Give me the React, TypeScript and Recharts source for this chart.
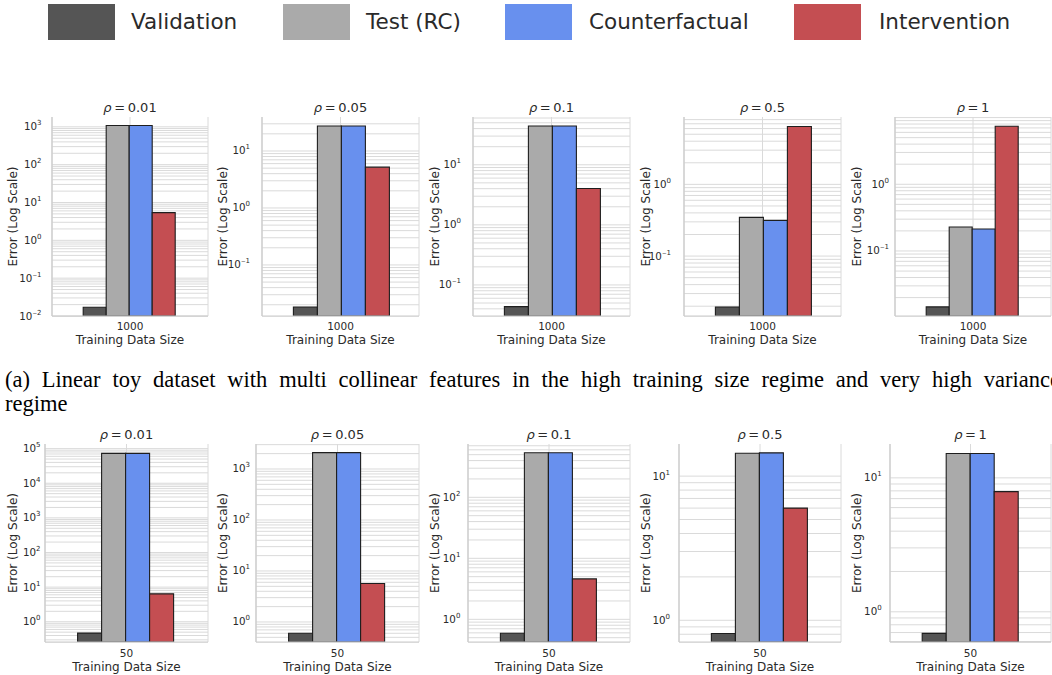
import React from "react";
import { BarChart, Bar, XAxis, YAxis, CartesianGrid } from "recharts";

// series
const seriesNames = ["Validation", "Test (RC)", "Counterfactual", "Intervention"];
const seriesKeys = ["val", "test", "cf", "int"];
const seriesColors = ["#555555", "#aaaaaa", "#6890ee", "#c44e52"];

const rhoLabels = ["0.01", "0.05", "0.1", "0.5", "1"];

// (a) high training size regime
const row1Size = "1000";
const row1Validation = [0.017, 0.0183, 0.0436, 0.0195, 0.0145];
const row1Test = [1080, 27.5, 44.2, 0.347, 0.229];
const row1Counterfactual = [1080, 27.5, 44.2, 0.315, 0.214];
const row1Intervention = [5.4, 5.2, 4.03, 6.4, 7.4];
const row1Domains = [[0.01, 1820], [0.0127, 39.5], [0.0304, 62.4], [0.0146, 8.7], [0.0106, 10.2]];
const row1TickExps = [[-2, -1, 0, 1, 2, 3], [-1, 0, 1], [-1, 0, 1], [-1, 0], [-1, 0]];

// low training size regime
const row2Size = "50";
const row2Validation = [0.47, 0.6, 0.59, 0.81, 0.69];
const row2Test = [73000, 2090, 538, 14.4, 15.2];
const row2Counterfactual = [73000, 2090, 538, 14.5, 15.2];
const row2Intervention = [6.4, 5.7, 4.6, 6.0, 7.9];
const row2Domains = [[0.26, 136000], [0.405, 3090], [0.425, 748], [0.707, 16.7], [0.595, 17.9]];
const row2TickExps = [[0, 1, 2, 3, 4, 5], [0, 1, 2, 3], [0, 1, 2], [0, 1], [0, 1]];

const caption =
  "(a) Linear toy dataset with multi collinear features in the high training size regime and very high variance";
const captionEnd = "regime";

// layout
const FONT = "'DejaVu Sans', sans-serif";
const TEXT = "#2a2a2a";
const SPINE = "#cccccc";
const GRID = "#dadada";

const colRight = [208, 419, 630, 841, 1051];
const yLabelX = [12.5, 223, 434.5, 646, 856.5];
const row1Layout = { top: 117, bottom: 316, lefts: [52, 262, 473, 684, 895], gaps: [10.5, 12, 12, 13, 6], xTick: 6.5, xH: 27.5 };
const row2Layout = { top: 444, bottom: 642, lefts: [45, 256, 468, 679, 890], gaps: [4.5, 6, 7.6, 9, 8.3], xTick: 7.8, xH: 29 };

const legendSwatchX = [48, 283, 505, 794];
const legendTextX = [131, 366, 589, 879];

const LogTick = (props: any) => {
  const { x, y, payload } = props;
  const e = Math.round(Math.log10(payload.value));
  return (
    <text x={x} y={y} dy={3.5} textAnchor="end" fill={TEXT} fontSize={10.3} fontFamily={FONT}>
      <tspan>10</tspan>
      {e < 0 ? (
        <>
          <tspan dy={-5} fontSize={5.5}>{"\u2212"}</tspan>
          <tspan fontSize={7}>{String(-e)}</tspan>
        </>
      ) : (
        <tspan dy={-5} fontSize={7}>{String(e)}</tspan>
      )}
    </text>
  );
};

const minorGrid = (lo: number, hi: number) => {
  const out: number[] = [];
  for (let k = Math.floor(Math.log10(lo)); k <= Math.ceil(Math.log10(hi)); k++) {
    for (let m = 1; m <= 9; m++) {
      const v = m * Math.pow(10, k);
      if (v >= lo && v <= hi) out.push(v);
    }
  }
  return out;
};

const Panel = (p: any) => {
  const { rho, size, values, domain, tickExps, left, right, top, bottom, labelX, gap, xTick, xH } = p;
  const data = [{ size, val: values[0], test: values[1], cf: values[2], int: values[3] }];
  const yW = 2 * (left - labelX);
  const mt = 4;
  const mr = 3;
  const mb = 5;
  const width = yW + (right - left) + mr;
  const height = mt + (bottom - top) + xH + mb;
  const ticks = tickExps.map((e: number) => Math.pow(10, e));
  const gridVals = minorGrid(domain[0], domain[1]);
  return (
    <>
      <div
        style={{
          position: "absolute",
          left: (left + right) / 2 - 60,
          top: top - 17,
          width: 120,
          height: 16,
          lineHeight: "16px",
          textAlign: "center",
          fontFamily: FONT,
          fontSize: 13,
          color: TEXT,
          whiteSpace: "nowrap",
        }}
      >
        <span style={{ fontStyle: "italic" }}>ρ</span>{"\u2009=\u2009"}{rho}
      </div>
      <div style={{ position: "absolute", left: left - yW, top: top - mt }}>
        <BarChart
          width={width}
          height={height}
          data={data}
          margin={{ top: mt, right: mr, bottom: mb, left: 0 }}
          barCategoryGap="20%"
          barGap={0}
        >
          <CartesianGrid stroke={GRID} strokeWidth={1} horizontalValues={gridVals} />
          <XAxis
            dataKey="size"
            type="category"
            height={xH}
            tickLine={false}
            tickSize={0}
            tickMargin={xTick}
            axisLine={{ stroke: SPINE, strokeWidth: 1.25 }}
            tick={{ fill: TEXT, fontSize: 10.5, fontFamily: FONT }}
            label={{ value: "Training Data Size", position: "insideBottom", offset: 0, fill: TEXT, fontSize: 12, fontFamily: FONT }}
          />
          <YAxis
            type="number"
            scale="log"
            domain={domain}
            allowDataOverflow
            ticks={ticks}
            interval={0}
            width={yW}
            tickLine={false}
            tickSize={0}
            tickMargin={gap}
            axisLine={{ stroke: SPINE, strokeWidth: 1.25 }}
            tick={<LogTick />}
            label={{ value: "Error (Log Scale)", angle: -90, position: "center", fill: TEXT, fontSize: 12, fontFamily: FONT }}
          />
          {seriesKeys.map((k, i) => (
            <Bar key={k} dataKey={k} name={seriesNames[i]} fill={seriesColors[i]} stroke="#1e1e1e" strokeWidth={1.1} isAnimationActive={false} />
          ))}
          <XAxis xAxisId="top" orientation="top" dataKey="size" height={0} tick={false} tickLine={false} axisLine={{ stroke: SPINE, strokeWidth: 1.25 }} />
          <YAxis yAxisId="right" orientation="right" width={0} tick={false} tickLine={false} axisLine={{ stroke: SPINE, strokeWidth: 1.25 }} />
        </BarChart>
      </div>
    </>
  );
};

const row = (
  size: string,
  v: number[],
  t: number[],
  c: number[],
  n: number[],
  domains: number[][],
  exps: number[][],
  L: any
) =>
  rhoLabels.map((rho, i) => (
    <Panel
      key={size + rho}
      rho={rho}
      size={size}
      values={[v[i], t[i], c[i], n[i]]}
      domain={domains[i]}
      tickExps={exps[i]}
      left={L.lefts[i]}
      right={colRight[i]}
      top={L.top}
      bottom={L.bottom}
      labelX={yLabelX[i]}
      gap={L.gaps[i]}
      xTick={L.xTick}
      xH={L.xH}
    />
  ));

export default function App() {
  return (
    <div style={{ position: "absolute", left: 0, top: 0, width: 1052, height: 675, overflow: "hidden", background: "#fff" }}>
      {seriesNames.map((name, i) => (
        <React.Fragment key={name}>
          <div style={{ position: "absolute", left: legendSwatchX[i], top: 4, width: 67, height: 36, background: seriesColors[i] }} />
          <div
            style={{
              position: "absolute",
              left: legendTextX[i],
              top: 4,
              height: 36,
              lineHeight: "36px",
              fontFamily: FONT,
              fontSize: 21.5,
              color: TEXT,
              whiteSpace: "nowrap",
            }}
          >
            {name}
          </div>
        </React.Fragment>
      ))}

      {row(row1Size, row1Validation, row1Test, row1Counterfactual, row1Intervention, row1Domains, row1TickExps, row1Layout)}

      <div
        style={{
          position: "absolute",
          left: 5,
          top: 368,
          width: 1055,
          fontFamily: "'Liberation Serif', 'Times New Roman', serif",
          fontSize: 22.5,
          lineHeight: "24px",
          color: "#000",
          textAlign: "justify",
          textAlignLast: "justify",
        }}
      >
        {caption}
        <br />
        {captionEnd}
      </div>

      {row(row2Size, row2Validation, row2Test, row2Counterfactual, row2Intervention, row2Domains, row2TickExps, row2Layout)}
    </div>
  );
}
